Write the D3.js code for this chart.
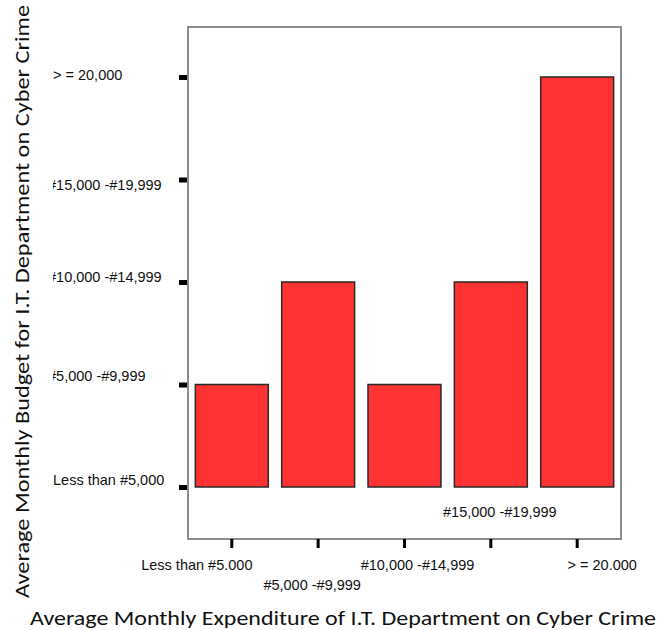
<!DOCTYPE html>
<html>
<head>
<meta charset="utf-8">
<script src="https://cdn.jsdelivr.net/npm/d3@7"></script>
<style>
  html, body { margin: 0; padding: 0; background: #fff; }
  svg { display: block; font-family: Carlito, Lato, "Open Sans", sans-serif; }
</style>
</head>
<body>
<svg id="chart" width="658" height="630"></svg>
<script>
// Expenditure categories (x) and budget categories (y)
const expenditureCats = ["Less than #5.000", "#5,000 -#9,999", "#10,000 -#14,999", "#15,000 -#19,999", "> = 20.000"];
const budgetCats = ["Less than #5,000", "#5,000 -#9,999", "#10,000 -#14,999", "#15,000 -#19,999", "> = 20,000"];
// Budget level reached for each expenditure category
const budgetLevel = ["#5,000 -#9,999", "#10,000 -#14,999", "#5,000 -#9,999", "#10,000 -#14,999", "> = 20,000"];

const xTitle = "Average Monthly Expenditure of I.T. Department on Cyber Crime";
const yTitle = "Average Monthly Budget for I.T. Department on Cyber Crime";

const svg = d3.select("#chart");
const frame = { left: 188, top: 27, right: 621, bottom: 539 };

const x = d3.scaleBand()
  .domain(expenditureCats)
  .range([frame.left, frame.right])
  .paddingInner(0.155)
  .paddingOuter(0.085);

const y = d3.scalePoint()
  .domain(budgetCats)
  .range([487, 77]);

// plot frame
svg.append("rect")
  .attr("x", frame.left).attr("y", frame.top)
  .attr("width", frame.right - frame.left)
  .attr("height", frame.bottom - frame.top)
  .attr("fill", "#fff")
  .attr("stroke", "#8c8c8c")
  .attr("stroke-width", 2);

// bars rise from the lowest budget level
svg.append("g").selectAll("rect")
  .data(expenditureCats.map((c, i) => ({ cat: c, level: budgetLevel[i] })))
  .join("rect")
  .attr("x", d => x(d.cat))
  .attr("width", x.bandwidth())
  .attr("y", d => y(d.level))
  .attr("height", d => y(budgetCats[0]) - y(d.level))
  .attr("fill", "#ff3333")
  .attr("stroke", "#2a2a2a")
  .attr("stroke-width", 1.5);

// y axis ticks and labels
const yAxis = svg.append("g")
  .attr("transform", `translate(${frame.left - 1},0)`)
  .call(d3.axisLeft(y).tickSize(8).tickPadding(0));
yAxis.select(".domain").remove();
yAxis.selectAll(".tick line").attr("stroke", "#000").attr("stroke-width", 5);

const yClip = svg.append("clipPath").attr("id", "ylab-clip");
yClip.append("rect").attr("x", 53 - frame.left + 1).attr("y", -20).attr("width", 200).attr("height", 40);

const yLabelDy = [-8, -9, -6, 5, -3];
yAxis.selectAll(".tick text")
  .attr("clip-path", "url(#ylab-clip)")
  .attr("text-anchor", "start")
  .attr("x", d => 53 - (frame.left - 1) - (d.startsWith("#") ? 5 : 0))
  .attr("dy", (d, i) => (yLabelDy[i] + 5) + "px")
  .attr("fill", "#111")
  .style("font-size", "14.5px")
  .style("font-family", null);

// x axis ticks and staggered labels
const xAxis = svg.append("g")
  .attr("transform", `translate(0,${frame.bottom})`)
  .call(d3.axisBottom(x).tickSize(9).tickPadding(0));
xAxis.select(".domain").remove();
xAxis.selectAll(".tick line").attr("stroke", "#000").attr("stroke-width", 3);

const xLabelShift = [
  { dx: -35, y: 31 },
  { dx: -6, y: 51 },
  { dx: 13, y: 31 },
  { dx: 9, y: -22 },
  { dx: 25, y: 31 }
];
xAxis.selectAll(".tick text")
  .attr("dy", null)
  .attr("x", (d, i) => xLabelShift[i].dx)
  .attr("y", (d, i) => xLabelShift[i].y)
  .attr("fill", "#111")
  .style("font-size", "14.5px")
  .style("font-family", null);

svg.selectAll(".tick text").attr("font-family", null).attr("font-size", null);

// axis titles
svg.append("text")
  .attr("x", 30).attr("y", 625)
  .attr("textLength", 626)
  .attr("lengthAdjust", "spacingAndGlyphs")
  .attr("fill", "#111")
  .style("font-size", "20px")
  .text(xTitle);

svg.append("text")
  .attr("transform", "translate(29,598) rotate(-90)")
  .attr("textLength", 593)
  .attr("lengthAdjust", "spacingAndGlyphs")
  .attr("fill", "#111")
  .style("font-size", "20px")
  .text(yTitle);
</script>
</body>
</html>
